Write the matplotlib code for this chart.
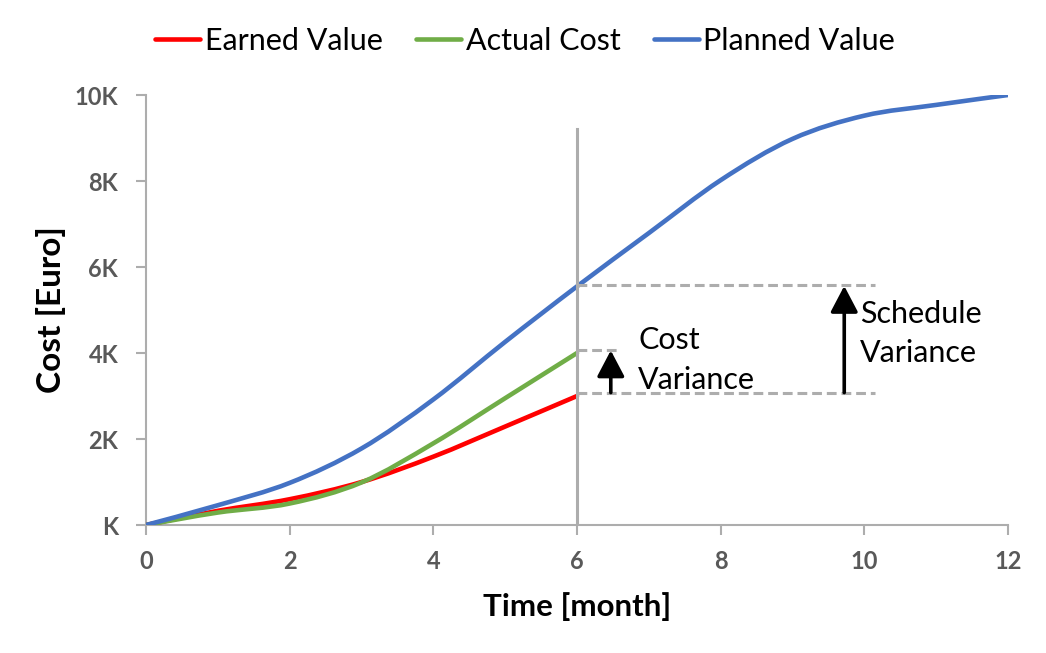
import matplotlib
matplotlib.use("Agg")
import matplotlib.pyplot as plt
from matplotlib.path import Path
from matplotlib.patches import PathPatch
from matplotlib.lines import Line2D
from matplotlib.ticker import FuncFormatter

plt.rcParams['font.family'] = ['Lato', 'DejaVu Sans']

# values (months, thousand euro)
months_pv = [0, 1, 2, 3, 4, 5, 6, 7, 8, 9, 10, 11, 12]
planned_value = [0, 0.46, 0.98, 1.78, 2.92, 4.26, 5.55, 6.79, 8.02, 8.98, 9.52, 9.77, 10.0]
months_now = [0, 1, 2, 3, 4, 5, 6]
earned_value = [0, 0.33, 0.6, 1.0, 1.59, 2.29, 3.0]
actual_cost = [0, 0.29, 0.5, 0.99, 1.9, 2.95, 4.0]

status_month = 6
status_line_top = 9.22
pv_level, ac_level, ev_level = 5.58, 4.08, 3.08
cv_dash_end, sv_dash_end = 6.57, 10.15
cv_arrow_x, sv_arrow_x = 6.47, 9.72

x_ticks = [0, 2, 4, 6, 8, 10, 12]
y_ticks = [0, 2, 4, 6, 8, 10]

GRAY = "#ADADAD"
TICK_GRAY = "#595959"
SERIES = [("Earned Value", months_now, earned_value, "#FF0000"),
          ("Actual Cost", months_now, actual_cost, "#70AD47"),
          ("Planned Value", months_pv, planned_value, "#4472C4")]


def smooth_path(xs, ys):
    # Excel style smoothed line: Catmull-Rom through the points, as Bezier segments
    pts = list(zip(xs, ys))
    n = len(pts)
    verts, codes = [pts[0]], [Path.MOVETO]
    for i in range(n - 1):
        p0 = pts[i - 1] if i > 0 else pts[i]
        p1, p2 = pts[i], pts[i + 1]
        p3 = pts[i + 2] if i + 2 < n else pts[i + 1]
        c1 = (p1[0] + (p2[0] - p0[0]) / 6, p1[1] + (p2[1] - p0[1]) / 6)
        c2 = (p2[0] - (p3[0] - p1[0]) / 6, p2[1] - (p3[1] - p1[1]) / 6)
        verts += [c1, c2, p2]
        codes += [Path.CURVE4] * 3
    return Path(verts, codes)


fig = plt.figure(figsize=(10.46, 6.53), dpi=100)
ax = fig.add_axes([0.1396, 0.196, 0.8241, 0.6585])

handles = []
for z, (name, xs, ys, col) in enumerate(SERIES):
    ax.add_patch(PathPatch(smooth_path(xs, ys), fill=False, edgecolor=col, lw=3.3,
                           capstyle="round", joinstyle="round", zorder=3 + z))
    handles.append(Line2D([], [], color=col, lw=3.3, solid_capstyle="round", label=name))

# status date and variance markers
ax.plot([status_month, status_month], [0, status_line_top], color=GRAY, lw=2.2, zorder=6)
dash = dict(color=GRAY, lw=2.2, ls=(0, (3.2, 1.6)), zorder=6)
ax.plot([status_month, sv_dash_end], [pv_level, pv_level], **dash)
ax.plot([status_month, cv_dash_end], [ac_level, ac_level], **dash)
ax.plot([status_month, sv_dash_end], [ev_level, ev_level], **dash)

arrow = dict(arrowstyle="-|>,head_length=0.8,head_width=0.42", color="black", lw=2.6,
             shrinkA=0, shrinkB=0, mutation_scale=20)
ax.annotate("", xy=(cv_arrow_x, ac_level - 0.02), xytext=(cv_arrow_x, ev_level),
            arrowprops=arrow, zorder=7)
ax.annotate("", xy=(sv_arrow_x, pv_level - 0.02), xytext=(sv_arrow_x, ev_level),
            arrowprops=arrow, zorder=7)

ax.text(6.85, 3.84, "Cost\nVariance", fontsize=22, va="center", ha="left", linespacing=1.5)
ax.text(9.94, 4.45, "Schedule\nVariance", fontsize=22, va="center", ha="left", linespacing=1.5)

ax.set_xlim(0, 12)
ax.set_ylim(0, 10)
ax.set_xticks(x_ticks)
ax.set_yticks(y_ticks)
ax.yaxis.set_major_formatter(FuncFormatter(lambda v, p: "K" if v == 0 else f"{int(v)}K"))

for side in ("top", "right"):
    ax.spines[side].set_visible(False)
for side in ("left", "bottom"):
    ax.spines[side].set_color(GRAY)
    ax.spines[side].set_linewidth(1.5)
ax.tick_params(axis="both", direction="out", length=7, width=1.5, color=GRAY,
               labelcolor=TICK_GRAY, labelsize=17)
ax.tick_params(axis="y", pad=13)
ax.tick_params(axis="x", pad=11)
for lab in ax.get_xticklabels() + ax.get_yticklabels():
    lab.set_fontweight("bold")

ax.set_xlabel("Time [month]", fontsize=22.5, fontweight="bold", labelpad=14)
ax.set_ylabel("Cost [Euro]", fontsize=24, fontweight="bold", labelpad=6)

fig.legend(handles=handles, loc="center", bbox_to_anchor=(0.502, 0.937), ncol=3,
           frameon=False, fontsize=22, handlelength=1.47, handletextpad=0.15,
           columnspacing=1.1)

fig.savefig("out.png", dpi=100)
